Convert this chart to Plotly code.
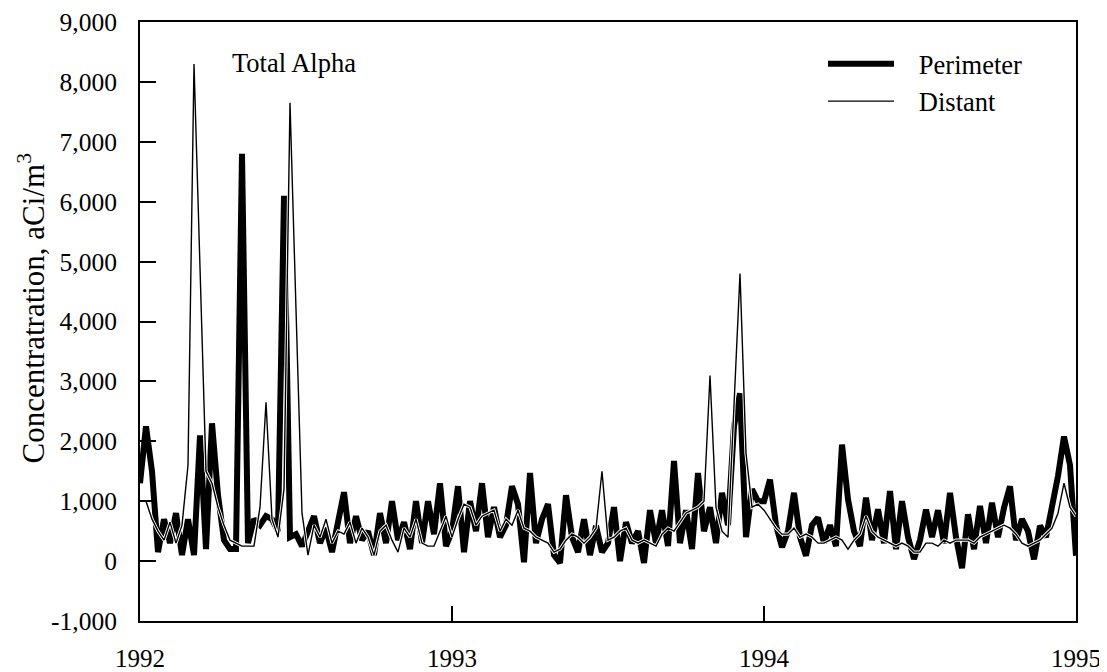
import numpy as np
import plotly.graph_objects as go

# Weekly concentrations, aCi/m^3, 1992.0 -> 1995.0
perimeter = [
    1300, 2250, 1500, 150, 700, 300, 800, 100, 700, 100, 2100, 200, 2300, 1100, 350, 200,
    200, 6800, 300, 700, 600, 750, 700, 500, 6100, 400,
    450, 250, 500, 750, 300, 550, 150, 600, 1150, 300, 750, 350, 500, 100, 800, 300,
    1000, 350, 650, 200, 1000, 300, 1000, 450, 1300, 250,
    500, 1250, 150, 1000, 500, 1300, 400, 900, 400, 600, 1250, 950, -20, 1470, 300, 700,
    950, 100, -30, 1100, 400, 150, 700, 100, 590, 150,
    300, 900, 0, 650, 300, 500, -30, 850, 300, 850, 250, 1670, 300, 850, 200, 1470,
    500, 900, 300, 1140, 600, 2250, 2800, 400, 1200, 1000,
    1000, 1360, 600, 230, 500, 1140, 400, 90, 600, 725, 300, 600, 250, 1945, 1030, 500,
    250, 1060, 350, 865, 300, 1170, 200, 1000, 400, 35,
    350, 860, 400, 850, 300, 1140, 400, -120, 780, 200, 920, 300, 975, 400, 890, 1250,
    350, 700, 500, 30, 590, 400, 890, 1420, 2080, 1600, 90,
]
distant = [
    1000, 1000, 700, 500, 350, 650, 300, 600, 1600, 8300, 4900, 1500, 1300, 900, 600, 350,
    300, 250, 250, 250, 900, 2650, 700, 400, 1200, 7650,
    4200, 800, 100, 600, 400, 700, 300, 500, 450, 650, 300, 550, 400, 100, 500, 600,
    350, 150, 550, 400, 700, 300, 250, 250, 500, 750,
    400, 700, 950, 900, 600, 750, 800, 850, 500, 700, 600, 850, 550, 500, 400, 350,
    300, 150, 200, 350, 450, 400, 300, 400, 550, 1500,
    350, 400, 500, 550, 350, 300, 350, 300, 250, 450, 550, 500, 650, 800, 850, 900,
    1000, 3100, 900, 500, 400, 2700, 4800, 1800, 900, 950,
    850, 700, 550, 450, 450, 550, 400, 450, 400, 300, 300, 350, 400, 350, 200, 350,
    450, 750, 500, 400, 350, 300, 250, 300, 250, 150,
    150, 300, 300, 250, 350, 300, 350, 350, 350, 300, 400, 450, 500, 550, 600, 550,
    450, 300, 250, 300, 350, 450, 550, 800, 1300, 900, 750,
]
year_ticks = [1992, 1993, 1994, 1995]
year_labels = ["1992", "1993", "1994", "1995"]
y_ticks = [-1000, 0, 1000, 2000, 3000, 4000, 5000, 6000, 7000, 8000, 9000]
y_labels = ["-1,000", "0", "1,000", "2,000", "3,000", "4,000", "5,000",
            "6,000", "7,000", "8,000", "9,000"]

weeks = np.arange(len(perimeter))
t = 1992 + weeks / 52.0

FONT = "Liberation Serif, Times New Roman, serif"
FS = 26.5
NB = "\u00a0\u00a0\u00a0"

fig = go.Figure()
fig.add_trace(go.Scatter(x=t, y=perimeter, mode="lines", name=NB + "Perimeter",
                         line=dict(color="black", width=6)))
fig.add_trace(go.Scatter(x=t, y=distant, mode="lines", name="Distant casing",
                         showlegend=False, hoverinfo="skip",
                         line=dict(color="white", width=3.2)))
fig.add_trace(go.Scatter(x=t, y=distant, mode="lines", name=NB + "Distant",
                         line=dict(color="black", width=1.4)))

fig.update_layout(
    width=1099, height=664,
    margin=dict(l=132, r=31, t=14, b=51),
    paper_bgcolor="white", plot_bgcolor="white",
    font=dict(family=FONT, size=FS, color="black"),
    showlegend=True,
    legend=dict(x=0.7297, y=0.97, xanchor="left", yanchor="top",
                bgcolor="rgba(0,0,0,0)", itemwidth=66,
                font=dict(family=FONT, size=FS, color="black"),
                tracegroupgap=0),
    xaxis=dict(range=[1992, 1995], tickvals=year_ticks, ticktext=year_labels,
               ticks="inside", ticklen=15, tickwidth=2, tickcolor="black",
               showline=True, linewidth=2, linecolor="black", mirror=True,
               showgrid=False, zeroline=False, automargin=False,
               ticklabelstandoff=14, ticklabeloverflow="allow",
               tickfont=dict(family=FONT, size=25, color="black")),
    yaxis=dict(range=[-1000, 9000], tickvals=y_ticks, ticktext=y_labels,
               ticks="inside", ticklen=16, tickwidth=2, tickcolor="black",
               showline=True, linewidth=2, linecolor="black", mirror=True,
               showgrid=False, zeroline=False, automargin=False,
               ticklabelstandoff=16, ticklabeloverflow="allow",
               tickfont=dict(family=FONT, size=25.5, color="black")),
    annotations=[
        dict(text="Total Alpha", xref="paper", yref="paper",
             x=0.096, y=0.9316, xanchor="left", yanchor="middle",
             showarrow=False, font=dict(family=FONT, size=FS, color="black")),
        dict(text="Concentratration, aCi/m<sup>3</sup>", xref="paper", yref="paper",
             x=-0.116, y=0.5225, xanchor="center", yanchor="middle",
             textangle=-90, showarrow=False,
             font=dict(family=FONT, size=31, color="black")),
    ],
)

fig.write_html("out.html")
